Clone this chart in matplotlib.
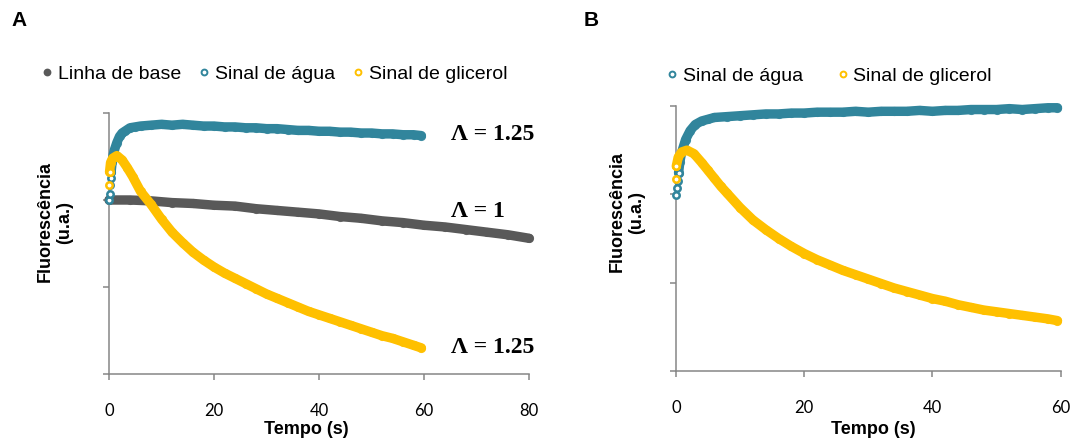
import matplotlib
matplotlib.use('Agg')
import matplotlib.pyplot as plt
from matplotlib.lines import Line2D

plt.rcParams['font.family'] = 'Liberation Sans'

# Panel A - baseline, water and glycerol signals (a.u.)
timeBaseA = [0, 4, 8, 12, 16, 20, 24, 28, 32, 36, 40, 44, 48, 52, 56, 60, 64, 68, 72, 76, 80]
baseA = [2.00, 2.00, 1.99, 1.97, 1.96, 1.94, 1.93, 1.90, 1.88, 1.86, 1.84, 1.81, 1.79, 1.76,
         1.74, 1.71, 1.69, 1.66, 1.63, 1.60, 1.56]

timeWaterA = [0, 0.1, 0.2, 0.3, 0.4, 0.6, 0.8, 1.0, 1.5, 2, 2.5, 3, 4, 5, 6, 8, 10, 12, 14, 16,
              18, 20, 22, 24, 26, 28, 30, 32, 34, 36, 38, 40, 42, 44, 46, 48, 50, 52, 54, 56,
              58, 59.5]
waterA = [2.00, 2.07, 2.17, 2.25, 2.32, 2.44, 2.52, 2.57, 2.66, 2.73, 2.77, 2.79, 2.83, 2.84,
          2.85, 2.86, 2.87, 2.86, 2.87, 2.86, 2.85, 2.85, 2.84, 2.84, 2.83, 2.83, 2.82, 2.82,
          2.81, 2.80, 2.80, 2.79, 2.79, 2.78, 2.78, 2.77, 2.77, 2.76, 2.76, 2.75, 2.75, 2.74]

timeGlycA = [0, 0.1, 0.3, 0.7, 1.5, 2.5, 3.5, 4.5, 6, 8, 10, 12, 14, 16, 18, 20, 22, 24, 26,
             28, 30, 32, 34, 36, 38, 40, 42, 44, 46, 48, 50, 52, 54, 56, 58, 59.5]
glycA = [2.17, 2.32, 2.43, 2.48, 2.51, 2.46, 2.37, 2.27, 2.10, 1.95, 1.78, 1.63, 1.51, 1.40,
         1.31, 1.23, 1.16, 1.10, 1.04, 0.98, 0.92, 0.87, 0.82, 0.77, 0.72, 0.68, 0.64, 0.60,
         0.56, 0.52, 0.48, 0.44, 0.41, 0.37, 0.33, 0.30]

# Panel B - water and glycerol signals (a.u.)
timeWaterB = [0, 0.1, 0.25, 0.4, 0.6, 0.9, 1.5, 2.2, 3, 4, 5, 6, 8, 10, 12, 14, 16, 18, 20, 22,
              24, 26, 28, 30, 32, 34, 36, 38, 40, 42, 44, 46, 48, 50, 52, 54, 56, 58, 59.5]
waterB = [1.99, 2.07, 2.15, 2.24, 2.37, 2.48, 2.62, 2.72, 2.79, 2.83, 2.85, 2.87, 2.88, 2.89,
          2.90, 2.91, 2.91, 2.92, 2.92, 2.93, 2.93, 2.93, 2.94, 2.93, 2.94, 2.94, 2.94, 2.95,
          2.94, 2.95, 2.95, 2.96, 2.96, 2.96, 2.97, 2.96, 2.97, 2.98, 2.98]

timeGlycB = [0, 0.05, 0.35, 0.9, 1.7, 2.8, 4, 5, 6, 7, 8, 10, 12, 14, 16, 18, 20, 22, 24, 26,
             28, 30, 32, 34, 36, 38, 40, 42, 44, 46, 48, 50, 52, 54, 56, 58, 59.5]
glycB = [2.17, 2.32, 2.42, 2.48, 2.50, 2.46, 2.36, 2.27, 2.18, 2.09, 2.01, 1.85, 1.71, 1.60,
         1.50, 1.41, 1.33, 1.26, 1.20, 1.14, 1.09, 1.04, 0.99, 0.94, 0.90, 0.86, 0.82, 0.79,
         0.75, 0.72, 0.69, 0.67, 0.65, 0.63, 0.61, 0.59, 0.57]

labels = ['Linha de base', 'Sinal de água', 'Sinal de glicerol']
ticksA = [0, 20, 40, 60, 80]
ticksB = [0, 20, 40, 60]

GRAY = '#595959'
TEAL = '#31859C'
YELLOW = '#FFC000'
AXIS = '#868686'


def drawSeries(ax, t, v, color, nOpen, z):
    # thick band for the dense readings, open rings where the first points are spread out
    start = max(nOpen - 1, 0)
    ax.plot(t[start:], v[start:], '-', color=color, lw=6.8,
            solid_capstyle='round', solid_joinstyle='round', zorder=z, clip_on=False)
    ax.plot(t[start:], v[start:], 'o', color=color, ms=6.6, mew=0, alpha=0.9,
            zorder=z, clip_on=False)
    if nOpen > 0:
        ax.plot(t[:nOpen], v[:nOpen], 'o', mfc='white', mec=color, ms=4.6, mew=1.8,
                zorder=z + 0.5, clip_on=False)


def styleAxis(ax, xmax, ticks):
    ax.set_xlim(0, xmax)
    ax.set_ylim(0, 3)
    ax.set_xticks(ticks)
    ax.set_yticks([0, 1, 2, 3])
    ax.set_yticklabels([])
    for side in ['top', 'right']:
        ax.spines[side].set_visible(False)
    for side in ['left', 'bottom']:
        ax.spines[side].set_color(AXIS)
        ax.spines[side].set_linewidth(1.1)
    ax.tick_params(axis='both', direction='out', length=4, width=1.1, color=AXIS)
    ax.tick_params(axis='x', pad=17, labelsize=12)
    for lab in ax.get_xticklabels():
        lab.set_fontfamily('Lato')


def legendHandle(color, face):
    return Line2D([], [], ls='none', marker='o', ms=4.2, mew=1.4, mec=color, mfc=face)


fig = plt.figure(figsize=(10.72, 4.43), dpi=100)

axA = fig.add_axes([109 / 1072, 1 - 374 / 443, 420 / 1072, 261 / 443])
drawSeries(axA, timeBaseA, baseA, GRAY, 0, 2)
drawSeries(axA, timeWaterA, waterA, TEAL, 5, 3)
drawSeries(axA, timeGlycA, glycA, YELLOW, 2, 4)
styleAxis(axA, 80, ticksA)
for y, txt in [(2.75, 'Λ = 1.25'), (1.87, 'Λ = 1'), (0.30, 'Λ = 1.25')]:
    axA.text(65.1, y, txt, ha='left', va='center', fontsize=17, fontweight='bold',
             family='Liberation Serif')

axB = fig.add_axes([676 / 1072, 1 - 371 / 443, 384.7 / 1072, 265 / 443])
drawSeries(axB, timeWaterB, waterB, TEAL, 4, 3)
drawSeries(axB, timeGlycB, glycB, YELLOW, 2, 4)
styleAxis(axB, 60, ticksB)

# panel letters
fig.text(19 / 1072, 1 - 20 / 443, 'A', fontsize=15, fontweight='bold', ha='center', va='center')
fig.text(591 / 1072, 1 - 20 / 443, 'B', fontsize=15, fontweight='bold', ha='center', va='center')

# axis titles
for xc, xl, yc in [(306, 55, 222), (873, 627, 212)]:
    fig.text(xc / 1072, 1 - 430 / 443, 'Tempo (s)', fontsize=13, fontweight='bold',
             ha='center', va='center')
    fig.text(xl / 1072, 1 - yc / 443, 'Fluorescência\n(u.a.)', fontsize=13, fontweight='bold',
             rotation=90, ha='center', va='center', multialignment='center')

# legends
handlesA = [legendHandle(GRAY, GRAY), legendHandle(TEAL, 'white'), legendHandle(YELLOW, 'white')]
fig.legend(handlesA, labels, loc='center left', bbox_to_anchor=((47 - 4.9) / 1072, 1 - 74 / 443),
           ncol=3, frameon=False, fontsize=14, handlelength=0.5, handletextpad=0.3,
           columnspacing=0.95, borderpad=0, borderaxespad=0)
fig.legend(handlesA[1:], labels[1:], loc='center left',
           bbox_to_anchor=((672 - 4.9) / 1072, 1 - 76 / 443),
           ncol=2, frameon=False, fontsize=14, handlelength=0.5, handletextpad=0.3,
           columnspacing=1.8, borderpad=0, borderaxespad=0)

fig.savefig('out.png', dpi=100)
